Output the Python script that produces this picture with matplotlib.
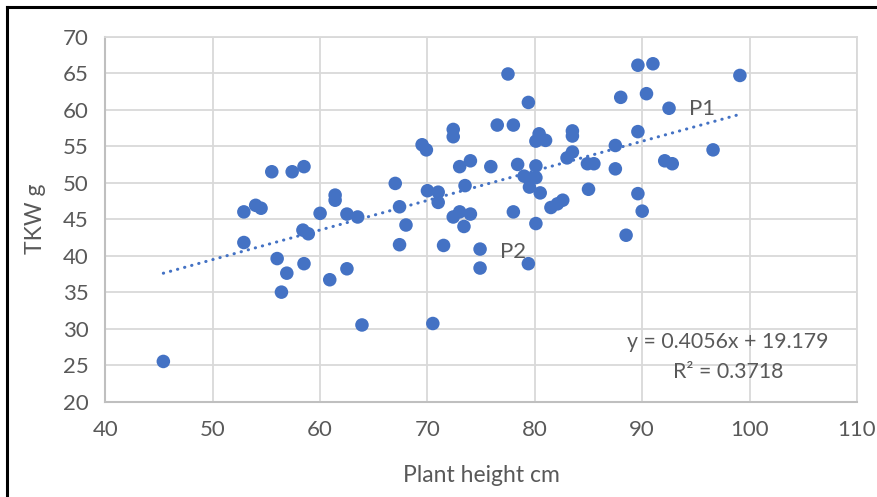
import numpy as np
import matplotlib
matplotlib.use('Agg')
import matplotlib.pyplot as plt
from matplotlib.lines import Line2D

# plant height (cm) and thousand kernel weight (g)
height = [45.4, 52.9, 54.0, 54.5, 52.9, 55.5, 57.4, 58.5, 56.0, 56.9,
          56.4, 58.5, 58.4, 58.9, 60.0, 61.4, 61.4, 62.5, 63.5, 60.9,
          62.5, 63.9, 67.0, 67.4, 68.0, 67.4, 69.5, 69.9, 70.0, 71.0,
          71.0, 70.5, 71.5, 72.4, 72.4, 73.0, 74.0, 73.5, 72.4, 73.0,
          74.0, 73.4, 74.9, 74.9, 75.9, 76.5, 77.5, 78.0, 78.4, 78.0,
          79.4, 79.0, 79.5, 80.1, 79.5, 80.1, 80.5, 80.1, 79.4, 80.4,
          80.1, 81.0, 81.5, 82.1, 82.6, 83.5, 83.5, 83.5, 83.0, 84.9,
          85.5, 85.0, 87.5, 87.5, 88.0, 89.6, 91.0, 90.4, 92.5, 89.6,
          92.1, 92.8, 96.6, 99.1, 89.6, 90.0, 88.5]
tkw = [25.5, 46.0, 46.9, 46.5, 41.8, 51.5, 51.5, 52.2, 39.6, 37.6,
       35.0, 38.9, 43.5, 43.0, 45.8, 48.3, 47.6, 45.7, 45.3, 36.7,
       38.2, 30.5, 49.9, 46.7, 44.2, 41.5, 55.2, 54.5, 48.9, 48.7,
       47.3, 30.7, 41.4, 57.3, 56.3, 52.2, 53.0, 49.6, 45.3, 46.0,
       45.7, 44.0, 40.9, 38.3, 52.2, 57.9, 64.9, 57.9, 52.5, 46.0,
       61.0, 50.9, 50.5, 50.7, 49.4, 52.3, 48.6, 44.4, 38.9, 56.7,
       55.7, 55.8, 46.6, 47.1, 47.6, 57.1, 56.4, 54.2, 53.4, 52.6,
       52.6, 49.1, 55.1, 51.9, 61.7, 66.1, 66.3, 62.2, 60.2, 57.0,
       53.0, 52.6, 54.5, 64.7, 48.5, 46.1, 42.8]

# linear trend as printed on the chart
slope = 0.4056
intercept = 19.179
r2 = 0.3718

blue = '#4472C4'
txt = '#595959'
plt.rcParams['font.family'] = ['Lato', 'DejaVu Sans']

fig = plt.figure(figsize=(8.78, 4.97), dpi=100)
ax = fig.add_axes([0.120, 0.192, 0.856, 0.734])

ax.scatter(height, tkw, s=95, color=blue, edgecolors='none', zorder=3)

xs = np.array([min(height), max(height)])
ax.plot(xs, slope * xs + intercept, color=blue, lw=2.2,
        linestyle=(0, (0.1, 2.3)), dash_capstyle='round', zorder=2)

ax.set_xlim(40, 110)
ax.set_ylim(20, 70)
ax.set_xticks(range(40, 111, 10))
ax.set_yticks(range(20, 71, 5))
ax.grid(True, color='#D9D9D9', lw=1.3)
ax.set_axisbelow(True)
for s in ['top', 'right']:
    ax.spines[s].set_color('#D9D9D9')
    ax.spines[s].set_linewidth(1.3)
for s in ['left', 'bottom']:
    ax.spines[s].set_color('#BFBFBF')
    ax.spines[s].set_linewidth(1.5)
ax.tick_params(length=0, labelsize=16, labelcolor=txt)
ax.tick_params(axis='x', pad=13)
ax.tick_params(axis='y', pad=12)

ax.set_xlabel('Plant height cm', fontsize=16.5, color=txt, labelpad=18)
ax.set_ylabel('TKW g', fontsize=16.5, color=txt, labelpad=12)

ax.text(95.6, 60.1, 'P1', fontsize=16, color=txt, ha='center', va='center')
ax.text(78.0, 40.5, 'P2', fontsize=16, color=txt, ha='center', va='center')
ax.text(98.0, 28.2, f'y = {slope}x + {intercept}', fontsize=15.3, color=txt,
        ha='center', va='center')
ax.text(98.0, 24.0, f'R² = {r2}', fontsize=15.3, color=txt,
        ha='center', va='center')

# frame lines visible at the top and left of the picture
fig.add_artist(Line2D([7 / 878, 1], [1 - 6.5 / 497] * 2, color='black', lw=2.2))
fig.add_artist(Line2D([7 / 878] * 2, [0, 1 - 6.5 / 497], color='black', lw=2.2))

fig.savefig('out.png', dpi=100)
